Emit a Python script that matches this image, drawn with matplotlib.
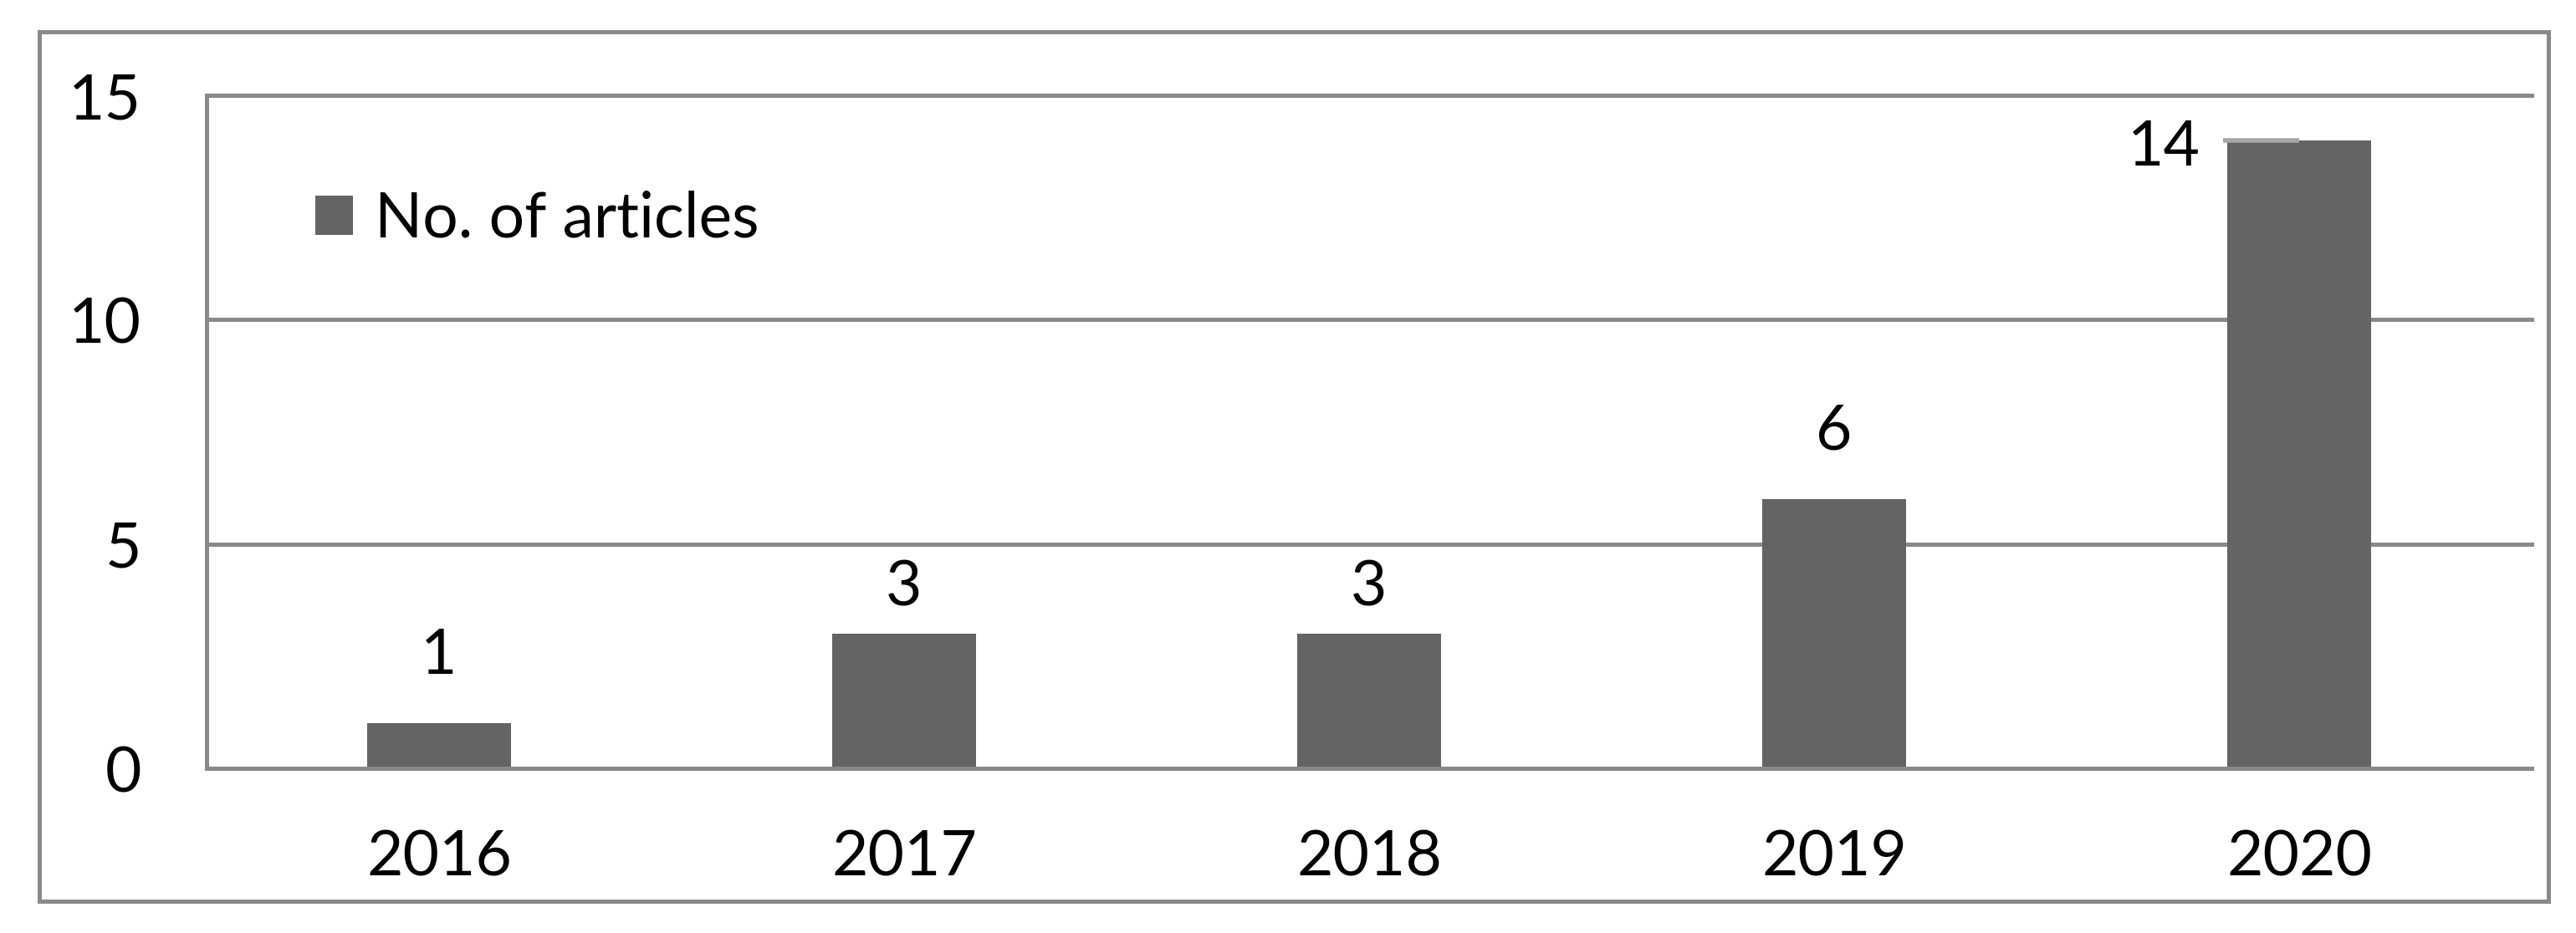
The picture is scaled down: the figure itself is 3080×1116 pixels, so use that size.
import matplotlib
matplotlib.use("Agg")
from matplotlib import pyplot as plt
from matplotlib.patches import Rectangle
import numpy as np

# data
years = ["2016", "2017", "2018", "2019", "2020"]
articles = [1, 3, 3, 6, 14]
y_ticks = [0, 5, 10, 15]

# vertical gap (points) between each bar top and its label, as placed in the original
label_gap = [43, 24, 24, 43]

bar_color = "#646464"
line_color = "#898989"

plt.rcParams["font.family"] = ["Lato", "DejaVu Sans"]

fig = plt.figure(figsize=(30.8, 11.16), dpi=100)
ax = fig.add_axes([0.0802, 0.1765, 0.9026, 0.7213])

x = np.arange(len(years))
ax.bar(x, articles, width=0.31, color=bar_color, zorder=2, label="No. of articles")

ax.set_xlim(-0.5, len(years) - 0.5)
ax.set_ylim(0, 15)

# grid lines (drawn by hand so the top one is not clipped)
for t in y_ticks[1:]:
    ax.axhline(t, color=line_color, lw=3.6, zorder=1, clip_on=False)

for side in ["top", "right"]:
    ax.spines[side].set_visible(False)
for side in ["left", "bottom"]:
    ax.spines[side].set_color(line_color)
    ax.spines[side].set_linewidth(3.6)
    ax.spines[side].set_zorder(3)

ax.set_xticks(x)
ax.set_xticklabels(years)
ax.set_yticks(y_ticks)
ax.tick_params(axis="x", length=0, pad=52, labelsize=54)
ax.tick_params(axis="y", length=0, pad=56, labelsize=54)

# value labels
for xi, v, gap in zip(x[:-1], articles[:-1], label_gap):
    ax.annotate(str(v), (xi, v), xytext=(0, gap), textcoords="offset points",
                ha="center", va="baseline", fontsize=54)

# last label sits to the left with a small leader line
ax.plot([x[-1] - 0.164, x[-1]], [articles[-1], articles[-1]], color="#a6a6a6",
        lw=4, zorder=4, solid_capstyle="butt")
ax.annotate(str(articles[-1]), (x[-1], articles[-1]), xytext=(-85, -6),
            textcoords="offset points", ha="right", va="center", fontsize=54)

ax.legend(loc="center left", bbox_to_anchor=(0.1224, 0.7648),
          bbox_transform=fig.transFigure, frameon=False, fontsize=54,
          handlelength=0.6, handleheight=0.6, handletextpad=0.35,
          borderpad=0, borderaxespad=0)

# outer chart border
fig.patches.append(Rectangle((0.01526, 0.0341), 0.97403, 0.9318,
                             transform=fig.transFigure, fill=False,
                             edgecolor=line_color, lw=3.6))

fig.savefig("out.png", dpi=100)
